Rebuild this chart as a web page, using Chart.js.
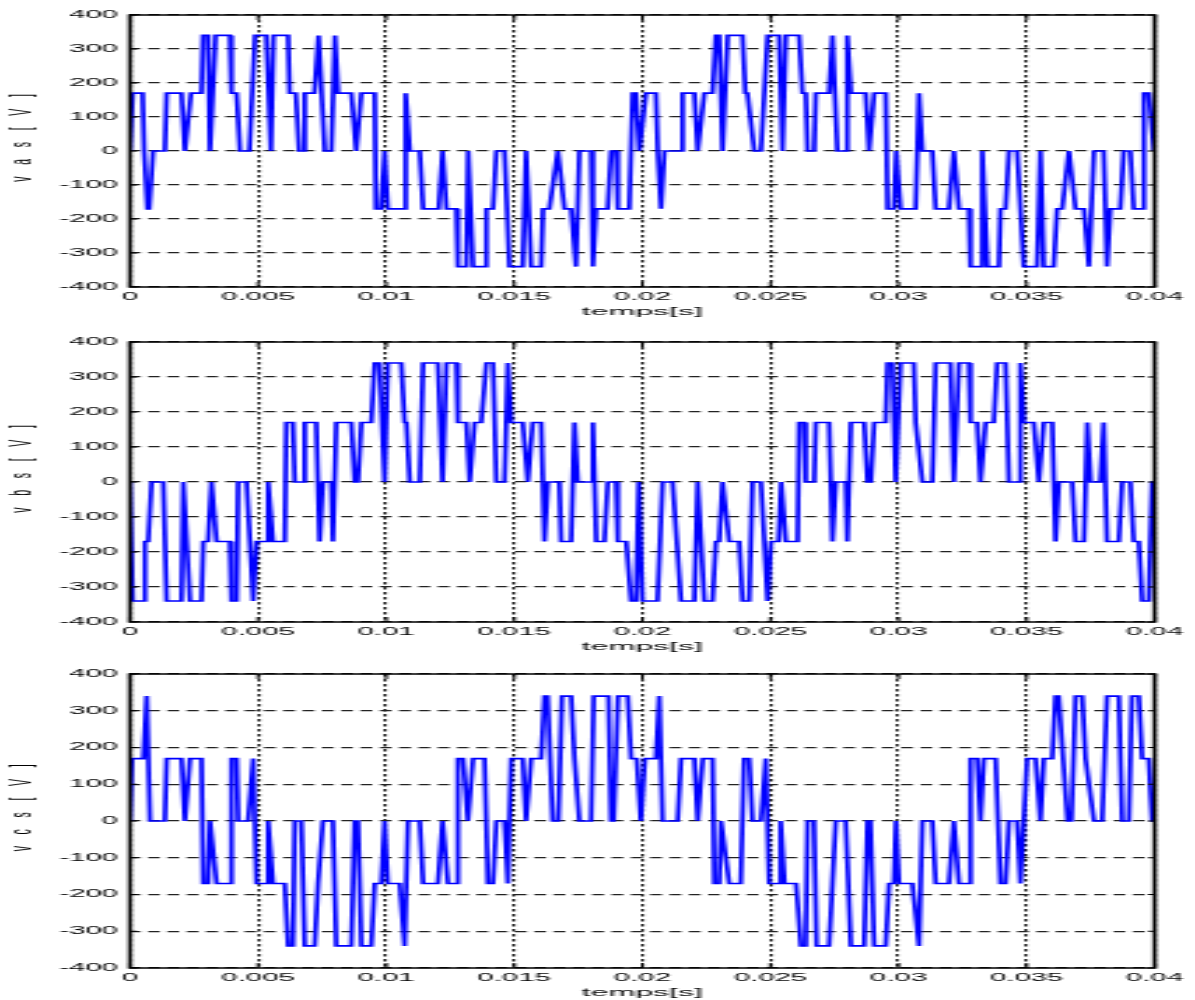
<!DOCTYPE html>
<html>
<head>
<meta charset="utf-8">
<title>vas / vbs / vcs</title>
<script src="https://cdn.jsdelivr.net/npm/chart.js@4.4.1/dist/chart.umd.min.js"></script>
<style>
  html, body { margin: 0; padding: 0; background: #fff; }
  body { width: 1195px; height: 1000px; position: relative; overflow: hidden; }
  canvas.panel { position: absolute; left: 0; transform-origin: 0 0; }
</style>
</head>
<body>
<canvas class="panel" id="vas"></canvas>
<canvas class="panel" id="vbs"></canvas>
<canvas class="panel" id="vcs"></canvas>
<script>
// Axis ticks
const xTickValues = [0, 0.005, 0.01, 0.015, 0.02, 0.025, 0.03, 0.035, 0.04];
const xTickLabels = ['0', '0.005', '0.01', '0.015', '0.02', '0.025', '0.03', '0.035', '0.04'];
const yTickValues = [-400, -300, -200, -100, 0, 100, 200, 300, 400];
const yTickLabels = ['-400', '-300', '-200', '-100', '0', '100', '200', '300', '400'];
const xAxisTitle = 'temps[s]';
const yAxisTitles = ['v    a    s    [    V    ]', 'v    b    s    [    V    ]', 'v    c    s    [    V    ]'];

// Phase voltage vas: time [ms] / voltage [V]
const vasTime = [
  0, 0.1, 0.49, 0.55, 0.68, 0.75, 0.9, 1.36, 1.43, 2.01,
  2.14, 2.38, 2.79, 2.85, 3.05, 3.12, 3.34, 3.9, 3.96, 4.16,
  4.29, 4.66, 4.88, 5.32, 5.5, 5.6, 6.17, 6.23, 6.47, 6.6,
  6.75, 6.82, 7.2, 7.36, 7.6, 7.86, 8.0, 8.12, 8.64, 8.83,
  9.03, 9.55, 9.6, 9.8, 9.94, 10.06, 10.66, 10.76, 10.92, 11.31,
  11.44, 12.05, 12.2, 12.35, 12.74, 12.8, 13.13, 13.2, 13.39, 13.84,
  13.91, 14.17, 14.3, 14.62, 14.81, 15.33, 15.46, 15.66, 16.05, 16.12,
  16.37, 16.7, 16.96, 17.22, 17.41, 17.54, 18.0, 18.07, 18.19, 18.65,
  18.78, 18.97, 19.04, 19.49, 19.62, 19.75, 19.88, 20.14, 20.53, 20.6,
  20.73, 20.86, 21.51, 21.57, 22.03, 22.16, 22.42, 22.74, 22.87, 23.0,
  23.13, 23.33, 23.91, 24.02, 24.1, 24.37, 24.63, 24.89, 25.34, 25.47,
  25.6, 26.12, 26.25, 26.38, 26.45, 26.71, 26.77, 27.29, 27.42, 27.61,
  27.94, 28.0, 28.14, 28.72, 28.85, 29.05, 29.5, 29.57, 29.82, 29.91,
  30.08, 30.67, 30.8, 30.93, 31.32, 31.45, 31.97, 32.16, 32.36, 32.75,
  32.81, 33.2, 33.27, 33.47, 33.92, 33.98, 34.18, 34.31, 34.63, 34.89,
  35.41, 35.54, 35.67, 36.06, 36.19, 36.39, 36.65, 36.91, 37.24, 37.43,
  37.63, 38.01, 38.14, 38.27, 38.66, 38.79, 39.05, 39.18, 39.51, 39.58,
  39.77, 39.97, 40
];
const vasVolt = [
  0, 170, 170, 0, -170, -170, 0, 0, 170, 170,
  0, 170, 170, 340, 340, 0, 340, 340, 170, 170,
  0, 0, 340, 340, 0, 340, 340, 170, 170, 0,
  0, 170, 170, 340, 0, 0, 340, 170, 170, 0,
  170, 170, -170, -170, 0, -170, -170, 170, 0, 0,
  -170, -170, 0, -170, -170, -340, -340, 0, -340, -340,
  -170, -170, 0, 0, -340, -340, 0, -340, -340, -170,
  -170, 0, -170, -170, -340, 0, 0, -340, -170, -170,
  0, 0, -170, -170, 170, 170, 0, 170, 170, 0,
  -170, 0, 0, 170, 170, 0, 170, 170, 340, 340,
  0, 340, 340, 170, 170, 0, 0, 340, 340, 0,
  340, 340, 170, 170, 0, 0, 170, 170, 340, 0,
  0, 340, 170, 170, 0, 170, 170, -170, -170, 0,
  -170, -170, 170, 0, 0, -170, -170, 0, -170, -170,
  -340, -340, 0, -340, -340, -170, -170, 0, 0, -340,
  -340, 0, -340, -340, -170, -170, 0, -170, -170, -340,
  0, 0, -340, -170, -170, 0, 0, -170, -170, 170,
  170, 0, 0
];

// Phase voltage vbs
const vbsTime = [
  0, 0.1, 0.52, 0.58, 0.71, 0.84, 1.3, 1.43, 2.01, 2.08,
  2.34, 2.79, 2.86, 3.05, 3.18, 3.38, 3.9, 3.96, 4.16, 4.22,
  4.55, 4.81, 4.94, 5.32, 5.39, 5.58, 6.04, 6.1, 6.36, 6.43,
  6.75, 6.82, 7.27, 7.4, 7.53, 7.86, 7.92, 8.05, 8.64, 8.77,
  8.9, 9.03, 9.42, 9.55, 9.74, 9.94, 10.06, 10.59, 10.72, 10.79,
  10.92, 11.31, 11.44, 12.02, 12.2, 12.35, 12.74, 12.8, 13.13, 13.26,
  13.45, 13.71, 13.91, 14.17, 14.3, 14.62, 14.75, 14.88, 15.33, 15.53,
  15.72, 16.05, 16.18, 16.31, 16.76, 16.83, 17.22, 17.35, 17.48, 18.0,
  18.07, 18.2, 18.52, 18.65, 18.97, 19.04, 19.37, 19.56, 19.75, 19.86,
  20.0, 20.59, 20.79, 21.18, 21.51, 22.03, 22.16, 22.42, 22.74, 22.87,
  23.0, 23.13, 23.39, 23.78, 23.91, 24.17, 24.3, 24.63, 24.89, 25.02,
  25.32, 25.42, 25.6, 26.06, 26.12, 26.32, 26.38, 26.71, 26.77, 27.29,
  27.42, 27.55, 27.94, 28.0, 28.14, 28.66, 28.79, 28.92, 29.05, 29.5,
  29.57, 29.76, 29.89, 30.08, 30.6, 30.67, 30.93, 31.32, 31.45, 32.03,
  32.16, 32.36, 32.75, 32.81, 33.07, 33.2, 33.4, 33.72, 33.85, 34.18,
  34.31, 34.7, 34.76, 34.89, 35.28, 35.48, 35.67, 36.0, 36.13, 36.26,
  36.78, 36.91, 37.24, 37.37, 37.5, 37.88, 38.01, 38.14, 38.6, 38.73,
  39.05, 39.18, 39.38, 39.51, 39.77, 39.9, 40
];
const vbsVolt = [
  0, -340, -340, -170, -170, 0, 0, -340, -340, 0,
  -340, -340, -170, -170, 0, -170, -170, -340, -340, 0,
  0, -340, -170, -170, 0, -170, -170, 170, 170, 0,
  0, 170, 170, -170, 0, 0, -170, 170, 170, 0,
  0, 170, 170, 340, 340, 0, 340, 340, 170, 170,
  0, 0, 340, 340, 0, 340, 340, 170, 170, 0,
  170, 170, 340, 340, 0, 0, 340, 170, 170, 0,
  170, 170, -170, 0, 0, -170, -170, 170, 0, 0,
  170, -170, -170, 0, 0, -170, -170, -340, -340, 0,
  -340, -340, 0, 0, -340, -340, 0, -340, -340, -170,
  -170, 0, -170, -170, -340, -340, 0, 0, -340, -170,
  -170, 0, -170, -170, 170, 170, 0, 0, 170, 170,
  -170, 0, 0, -170, 170, 170, 0, 0, 170, 170,
  340, 340, 0, 340, 340, 170, 0, 0, 340, 340,
  0, 340, 340, 170, 170, 0, 170, 170, 340, 340,
  0, 0, 340, 170, 170, 0, 170, 170, -170, 0,
  0, -170, -170, 170, 0, 0, 170, -170, -170, 0,
  0, -170, -170, -340, -340, 0, 0
];

// Phase voltage vcs
const vcsTime = [
  0, 0.08, 0.52, 0.65, 0.78, 1.36, 1.43, 2.01, 2.14, 2.34,
  2.79, 2.86, 3.05, 3.12, 3.38, 3.9, 3.96, 4.16, 4.22, 4.61,
  4.81, 4.94, 5.32, 5.39, 5.58, 6.04, 6.17, 6.36, 6.43, 6.69,
  6.82, 7.21, 7.34, 7.53, 7.92, 8.05, 8.64, 8.77, 8.9, 9.03,
  9.42, 9.55, 9.81, 9.94, 10.06, 10.53, 10.72, 10.85, 11.31, 11.44,
  12.02, 12.2, 12.41, 12.74, 12.8, 13.0, 13.19, 13.39, 13.84, 13.97,
  14.17, 14.3, 14.62, 14.75, 14.88, 15.33, 15.46, 15.66, 16.05, 16.18,
  16.3, 16.5, 16.72, 16.86, 17.22, 17.35, 17.54, 18.0, 18.1, 18.68,
  18.78, 18.88, 19.05, 19.43, 19.56, 19.78, 19.94, 20.1, 20.53, 20.66,
  20.79, 21.38, 21.51, 22.03, 22.16, 22.36, 22.74, 22.81, 23.0, 23.07,
  23.39, 23.84, 23.97, 24.17, 24.3, 24.63, 24.82, 24.95, 25.3, 25.4,
  25.55, 26.0, 26.19, 26.38, 26.45, 26.7, 26.8, 27.29, 27.42, 27.55,
  27.94, 28.14, 28.66, 28.79, 28.9, 29.05, 29.5, 29.63, 29.82, 29.9,
  30.02, 30.54, 30.8, 30.93, 31.32, 31.45, 31.97, 32.16, 32.36, 32.75,
  32.81, 33.07, 33.2, 33.33, 33.79, 33.98, 34.18, 34.31, 34.63, 34.76,
  35.02, 35.35, 35.54, 35.67, 36.0, 36.13, 36.25, 36.6, 36.75, 36.91,
  37.17, 37.3, 37.63, 37.95, 38.14, 38.6, 38.73, 38.99, 39.11, 39.38,
  39.51, 39.77, 39.9, 40
];
const vcsVolt = [
  0, 170, 170, 340, 0, 0, 170, 170, 0, 170,
  170, -170, -170, 0, -170, -170, 170, 170, 0, 0,
  170, -170, -170, 0, -170, -170, -340, -340, 0, 0,
  -340, -340, -170, 0, 0, -340, -340, 0, 0, -340,
  -340, -170, -170, 0, -170, -170, -340, 0, 0, -170,
  -170, 0, -170, -170, 170, 170, 0, 170, 170, -170,
  -170, 0, 0, -170, 170, 170, 0, 170, 170, 340,
  340, 0, 0, 340, 340, 170, 0, 0, 340, 340,
  0, 0, 340, 340, 170, 170, 0, 170, 170, 340,
  0, 0, 170, 170, 0, 170, 170, -170, -170, 0,
  -170, -170, 170, 170, 0, 0, 170, -170, -170, 0,
  -170, -170, -340, -340, 0, 0, -340, -340, -170, 0,
  0, -340, -340, 0, 0, -340, -340, -170, -170, 0,
  -170, -170, -340, 0, 0, -170, -170, 0, -170, -170,
  170, 170, 0, 170, 170, -170, -170, 0, 0, -170,
  170, 170, 0, 170, 170, 340, 340, 0, 0, 340,
  340, 170, 0, 0, 340, 340, 0, 0, 340, 340,
  170, 170, 0, 0
];

// ---- layout / style ----
const FONT = "'Liberation Sans', Arial, Helvetica, sans-serif";
const CANVAS_W = 427;                 // drawing width before the horizontal stretch
const STRETCH = 1195 / CANVAS_W;      // the figure is wide and short: stretch horizontally
const PLOT_LEFT = 130, PLOT_RIGHT = 1156, TICK_RIGHT = 118;
const X_AXIS_H = 40;
const LABEL_LIFT = '         ';      // lifts the vertical label a little above the axis middle

const panels = [
  { id: 'vas', top: 0,   plotTop: 15,  plotBottom: 287, title: yAxisTitles[0], time: vasTime, volt: vasVolt },
  { id: 'vbs', top: 327, plotTop: 342, plotBottom: 622, title: yAxisTitles[1], time: vbsTime, volt: vbsVolt },
  { id: 'vcs', top: 662, plotTop: 674, plotBottom: 968, title: yAxisTitles[2], time: vcsTime, volt: vcsVolt }
];

// Box around the axes with small inward tick marks on all four sides
const axesBox = {
  id: 'axesBox',
  afterDatasetsDraw(chart) {
    const { ctx, chartArea: a, scales } = chart;
    ctx.save();
    ctx.strokeStyle = '#000';
    ctx.setLineDash([]);
    ctx.lineWidth = 1;
    ctx.beginPath();
    xTickValues.forEach(v => {
      const px = scales.x.getPixelForValue(v);
      ctx.moveTo(px, a.bottom); ctx.lineTo(px, a.bottom - 5);
      ctx.moveTo(px, a.top); ctx.lineTo(px, a.top + 5);
    });
    yTickValues.forEach(v => {
      const py = scales.y.getPixelForValue(v);
      ctx.moveTo(a.left, py); ctx.lineTo(a.left + 2.5, py);
      ctx.moveTo(a.right, py); ctx.lineTo(a.right - 2.5, py);
    });
    ctx.stroke();
    ctx.lineWidth = 1.5;
    ctx.strokeRect(a.left, a.top, a.right - a.left, a.bottom - a.top);
    ctx.restore();
  }
};

function makePanel(p) {
  const canvas = document.getElementById(p.id);
  const h = p.plotBottom - p.top + X_AXIS_H;
  canvas.width = CANVAS_W;
  canvas.height = h;
  canvas.style.top = p.top + 'px';
  canvas.style.transform = 'scaleX(' + STRETCH + ')';

  const points = p.time.map((t, i) => ({ x: t / 1000, y: p.volt[i] }));

  new Chart(canvas, {
    type: 'line',
    data: {
      datasets: [{
        data: points,
        borderColor: '#0000ff',
        borderWidth: 1.7,
        pointRadius: 0,
        tension: 0,
        fill: false
      }]
    },
    options: {
      responsive: false,
      devicePixelRatio: 1,
      animation: false,
      events: [],
      layout: { padding: { left: 0, top: p.plotTop - p.top, bottom: 0, right: CANVAS_W - PLOT_RIGHT / STRETCH } },
      plugins: { legend: { display: false }, tooltip: { enabled: false } },
      scales: {
        x: {
          type: 'linear',
          min: 0, max: 0.04,
          afterBuildTicks: s => { s.ticks = xTickValues.map(v => ({ value: v })); },
          afterFit: s => { s.height = X_AXIS_H; },
          ticks: {
            autoSkip: false, maxRotation: 0, minRotation: 0, padding: 4.2,
            color: '#000', font: { family: FONT, size: 10.5 },
            callback: (v, i) => xTickLabels[i]
          },
          grid: { color: '#222', lineWidth: 1.1, drawTicks: false },
          border: { display: false, dash: [2.5, 2.5] },
          title: {
            display: true, text: xAxisTitle, color: '#000',
            font: { family: FONT, size: 11.5 }, padding: { top: 0, bottom: 8.1 }
          }
        },
        y: {
          type: 'linear',
          min: -400, max: 400,
          afterBuildTicks: s => { s.ticks = yTickValues.map(v => ({ value: v })); },
          afterFit: s => { s.width = PLOT_LEFT / STRETCH; },
          ticks: {
            autoSkip: false, padding: (PLOT_LEFT - TICK_RIGHT) / STRETCH,
            color: '#000', font: { family: FONT, size: 10.5 },
            callback: (v, i) => yTickLabels[i]
          },
          grid: { color: '#222', lineWidth: 1.3, drawTicks: false },
          border: { display: false, dash: [4.2, 2.7] },
          title: {
            display: true, text: LABEL_LIFT + p.title, color: '#000',
            font: { family: FONT, size: 10.5 }, padding: { top: 2.2, bottom: 0 }
          }
        }
      }
    },
    plugins: [axesBox]
  });
}

panels.forEach(makePanel);
</script>
</body>
</html>
